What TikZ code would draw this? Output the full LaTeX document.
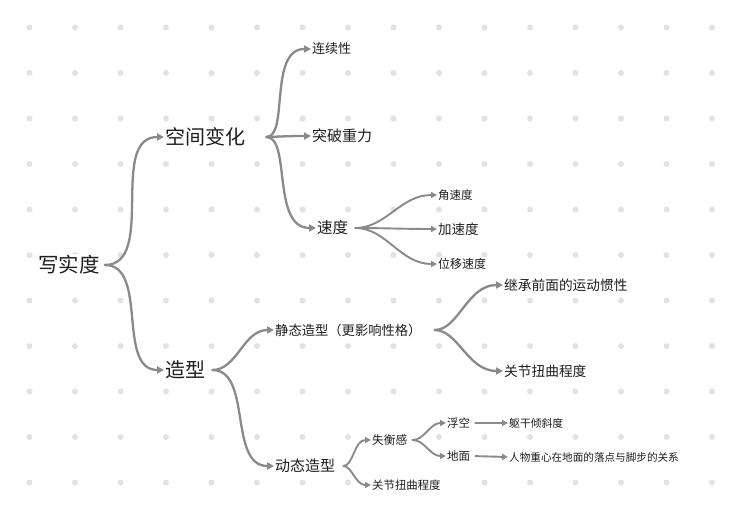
\documentclass[tikz,border=0pt]{standalone}
\usepackage{fontspec}
\setmainfont{Noto Sans CJK SC}
\usetikzlibrary{arrows.meta}
\definecolor{linegray}{HTML}{8A8A8A}
\definecolor{dotgray}{HTML}{E2E2E2}
\definecolor{textgray}{HTML}{1E1E1E}

\begin{document}
\begin{tikzpicture}[x=1pt,y=-1pt,
	conn/.style={draw=linegray,line width=2.3pt,line cap=round,shorten <=4pt,-{Triangle[length=7pt,width=7pt]}},
	smallconn/.style={conn,line width=1.9pt,-{Triangle[length=6pt,width=6pt]}},
	topic/.style={anchor=west,inner sep=1pt,fill=white,text=textgray,font=\fontsize{#1}{#1}\selectfont}]
		\fill[white](0,0) rectangle (741,518);
		\useasboundingbox (0,0) rectangle (741,518);
		
		% dot grid
		\foreach \gx in {0,...,15}
		\foreach \gy in {0,...,10}
		\fill[dotgray](29.5+45.5*\gx,27.5+45.5*\gy) circle [radius=3];
		
		% topics
		\node[topic=20.5] (root) at (37,265){写实度};
		\node[topic=20] (kongjian) at (164,137){空间变化};
		\node[topic=20] (zaoxing) at (164,370){造型};
		
		\node[topic=13] (lianxu) at (311,49){连续性};
		\node[topic=15] (tupo) at (311,136){突破重力};
		\node[topic=15.5] (sudu) at (316,228){速度};
		
		\node[topic=11.5] (jiao) at (437,195){角速度};
		\node[topic=13.5] (jia) at (437,229){加速度};
		\node[topic=12] (weiyi) at (437,264){位移速度};
		
		\node[topic=13.3] (jingtai) at (274,330){静态造型（更影响性格）};
		\node[topic=13.7] (jicheng) at (503,285){继承前面的运动惯性};
		\node[topic=13.7] (guanjieA) at (503,371){关节扭曲程度};
		
		\node[topic=15] (dongtai) at (274,466){动态造型};
		\node[topic=11.7] (shiheng) at (371,440){失衡感};
		\node[topic=11.4] (guanjieB) at (371,485){关节扭曲程度};
		\node[topic=11.5] (fukong) at (446,423){浮空};
		\node[topic=11.5] (dimian) at (446,456){地面};
		\node[topic=10.8] (qugan) at (508,423){躯干倾斜度};
		\node[topic=10.6] (zhongxin) at (508,457){人物重心在地面的落点与脚步的关系};
		
		% connectors
		\draw[conn](root.east) to[out=0,in=180] (kongjian.west);
		\draw[conn](root.east) to[out=0,in=180] (zaoxing.west);
		
		\draw[conn,shorten <=20pt](kongjian.east) to[out=0,in=180] (lianxu.west);
		\draw[conn,shorten <=20pt](kongjian.east) to[out=0,in=180] (tupo.west);
		\draw[conn,shorten <=20pt](kongjian.east) to[out=0,in=180] (sudu.west);
		
		\draw[smallconn,shorten <=6pt](sudu.east) to[out=0,in=180] (jiao.west);
		\draw[smallconn,shorten <=6pt](sudu.east) to[out=0,in=180] (jia.west);
		\draw[smallconn,shorten <=6pt](sudu.east) to[out=0,in=180] (weiyi.west);
		
		\draw[conn,shorten <=6pt](zaoxing.east) to[out=0,in=180] (jingtai.west);
		\draw[conn,shorten <=6pt](zaoxing.east) to[out=0,in=180] (dongtai.west);
		
		\draw[conn,shorten <=12pt](jingtai.east) to[out=0,in=180] (jicheng.west);
		\draw[conn,shorten <=12pt](jingtai.east) to[out=0,in=180] (guanjieA.west);
		
		\draw[smallconn,shorten <=7pt](dongtai.east) to[out=0,in=180] (shiheng.west);
		\draw[smallconn,shorten <=7pt](dongtai.east) to[out=0,in=180] (guanjieB.west);
		\draw[smallconn](shiheng.east) to[out=0,in=180] (fukong.west);
		\draw[smallconn](shiheng.east) to[out=0,in=180] (dimian.west);
		\draw[smallconn](fukong.east) -- (qugan.west);
		\draw[smallconn](dimian.east) -- (zhongxin.west);
\end{tikzpicture}
\end{document}
